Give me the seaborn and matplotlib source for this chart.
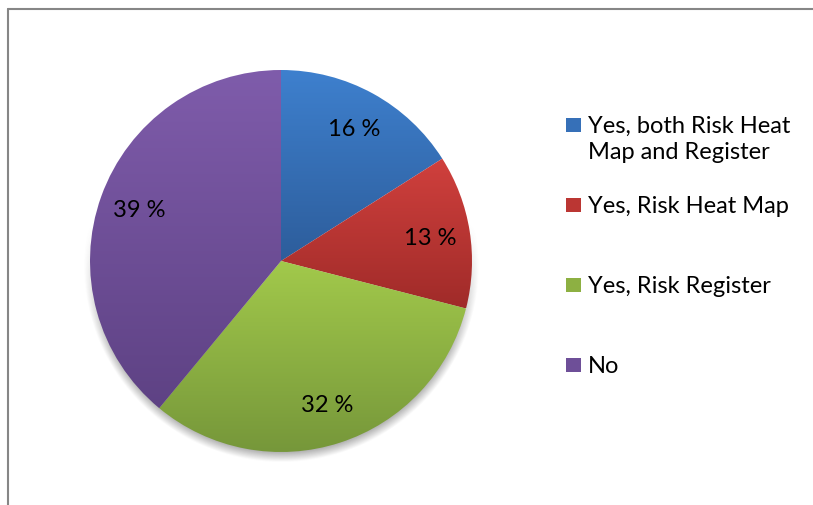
import numpy as np
import matplotlib
matplotlib.use("Agg")
import matplotlib.pyplot as plt
from matplotlib.colors import LinearSegmentedColormap
from matplotlib.lines import Line2D
from matplotlib.patches import Rectangle
import seaborn as sns

# Survey answers and their shares (percent)
categories = ["Yes, both Risk Heat\nMap and Register", "Yes, Risk Heat Map",
              "Yes, Risk Register", "No"]
shares = [16, 13, 32, 39]
value_labels = ["16 %", "13 %", "32 %", "39 %"]

# Light (top) and dark (bottom) shade of each slice's vertical gradient
top_colors = ["#3e80ce", "#d0403d", "#a2c94b", "#7f5cab"]
bottom_colors = ["#2d5d9b", "#a02b29", "#76973a", "#5e4284"]
mid_colors = ["#3670b8", "#bb3633", "#8db042", "#6e4f98"]

sns.set_theme(style="white")
plt.rcParams["font.family"] = ["Lato", "DejaVu Sans"]

W, H, DPI = 813, 506, 100
fig = plt.figure(figsize=(W / DPI, H / DPI), dpi=DPI)
fig.patch.set_facecolor("white")

# Pie axes: centre at (281, 262) px, radius 191 px
cx, cy, rad = 281, 262, 191
half = 210
ax = fig.add_axes([(cx - half) / W, 1 - (cy + half) / H, 2 * half / W, 2 * half / H])
lim = half / rad

# Soft drop shadow under the pie
n = 400
xs = np.linspace(-lim, lim, n)
XX, YY = np.meshgrid(xs, xs)
dist = np.hypot(XX, YY + 0.02)
edge = np.clip((dist - 0.985) / 0.05, 0, 1)
alpha = 0.45 * (1 - edge) * np.clip(-(YY) * 1.5 + 0.3, 0, 1)
shadow = np.zeros((n, n, 4))
shadow[..., :3] = 0.35
shadow[..., 3] = alpha
ax.imshow(shadow, extent=[-lim, lim, -lim, lim], origin="lower", zorder=0,
          interpolation="bilinear")

wedges, texts, autotexts = ax.pie(
    shares, startangle=90, counterclock=False, radius=1.0,
    labels=None, autopct=lambda p: "", pctdistance=0.79,
    wedgeprops=dict(linewidth=0, edgecolor="none"),
)

fig.canvas.draw()
inv = ax.transData.inverted()
for i, w in enumerate(wedges):
    w.set_facecolor("none")
    bb = w.get_window_extent().transformed(inv)
    cmap = LinearSegmentedColormap.from_list(f"g{i}", [bottom_colors[i], top_colors[i]])
    grad = np.linspace(0, 1, 256).reshape(-1, 1)
    im = ax.imshow(grad, cmap=cmap, extent=[bb.x0, bb.x1, bb.y0, bb.y1],
                   origin="lower", aspect="auto", zorder=1, interpolation="bicubic")
    im.set_clip_path(w)

# Percentage labels positioned along each slice's bisector
for t, lab in zip(autotexts, value_labels):
    t.set_text(lab)
    t.set_fontsize(17)
    t.set_color("black")
    t.set_zorder(3)

ax.set_xlim(-lim, lim)
ax.set_ylim(-lim, lim)
ax.set_aspect("equal")
ax.axis("off")

# Legend: square markers with labels, entries spaced down the right side
leg_x, text_x = 566, 588
first_baselines = [133, 213, 293, 373]
line_pitch = 26
for col, lab, base in zip(mid_colors, categories, first_baselines):
    fig.patches.append(Rectangle((leg_x / W, 1 - base / H), 15 / W, 14 / H,
                                 transform=fig.transFigure, facecolor=col,
                                 edgecolor="none"))
    for k, line in enumerate(lab.split("\n")):
        fig.text(text_x / W, 1 - (base + k * line_pitch) / H, line, fontsize=17,
                 va="baseline", ha="left", color="black")

# Chart-area border (left and top edges)
fig.add_artist(Line2D([7.5 / W, 7.5 / W], [0, 1 - 10 / H], transform=fig.transFigure,
                      color="#868686", linewidth=1.5))
fig.add_artist(Line2D([7.5 / W, 1], [1 - 10 / H, 1 - 10 / H], transform=fig.transFigure,
                      color="#868686", linewidth=1.5))

fig.savefig("out.png", dpi=DPI, facecolor="white")
